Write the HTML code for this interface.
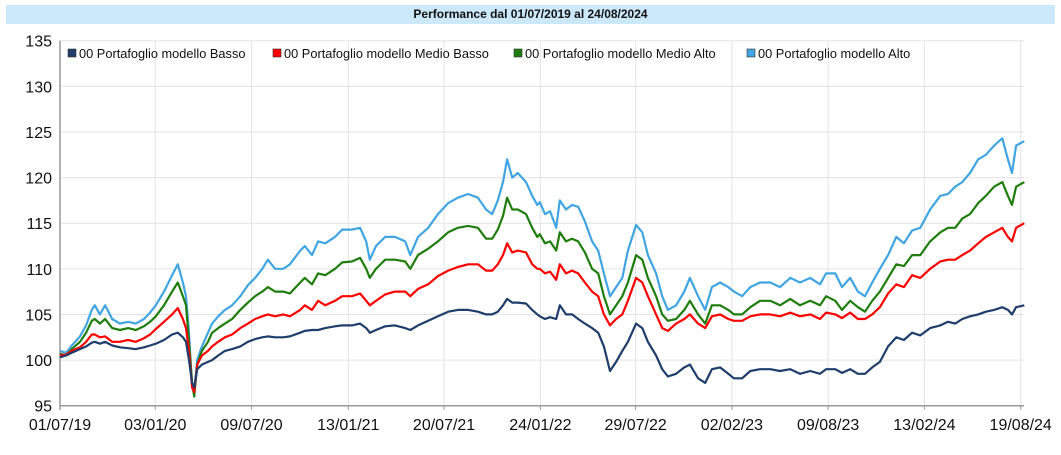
<!DOCTYPE html>
<html><head><meta charset="utf-8"><style>
body{margin:0;background:#fff;width:1061px;height:455px;overflow:hidden;font-family:"Liberation Sans",sans-serif}
#title{position:absolute;left:6px;top:5px;width:1049px;height:19px;background:#cce8fb;font-weight:bold;font-size:12px;line-height:19px;text-align:center;color:#111}
svg{position:absolute;left:0;top:0}
</style></head><body>
<div id="title">Performance dal 01/07/2019 al 24/08/2024</div>
<svg id="c" width="1061" height="455"></svg>
<script>
const days=[0,12,23,39,51,62,68,78,88,102,117,133,148,164,176,187,203,219,230,240,246,252,258,262,268,277,289,297,309,322,336,352,367,381,395,406,420,436,449,469,478,492,504,518,537,551,570,586,598,605,617,635,654,674,684,699,719,738,758,777,797,816,832,844,855,865,873,883,894,910,922,932,937,947,957,969,976,988,1000,1012,1025,1039,1051,1062,1074,1086,1098,1109,1125,1137,1148,1164,1176,1187,1203,1219,1230,1246,1260,1273,1289,1305,1316,1332,1348,1367,1387,1406,1426,1445,1465,1484,1496,1514,1527,1543,1558,1572,1586,1601,1617,1633,1648,1664,1680,1699,1719,1734,1748,1762,1777,1793,1808,1824,1840,1851,1859,1867,1883];
const basso=[100.3,100.5,100.8,101.2,101.5,101.9,102,101.8,102,101.6,101.4,101.3,101.2,101.4,101.6,101.8,102.2,102.8,103,102.5,102,100,97.5,97,99,99.5,99.8,100,100.5,101,101.2,101.5,102,102.3,102.5,102.6,102.5,102.5,102.6,103,103.2,103.3,103.3,103.5,103.7,103.8,103.8,104,103.5,103,103.3,103.7,103.8,103.5,103.3,103.8,104.3,104.8,105.3,105.5,105.5,105.3,105,105,105.3,106,106.7,106.3,106.3,106.2,105.5,105,104.8,104.5,104.7,104.5,106,105,105,104.5,104,103.5,103,101.5,98.8,99.8,101,102,104,103.5,102,100.5,99,98.2,98.5,99.2,99.5,98,97.5,99,99.2,98.5,98,98,98.8,99,99,98.8,99,98.5,98.8,98.5,99,99,98.6,99,98.5,98.5,99.2,99.8,101.5,102.5,102.2,103,102.7,103.5,103.8,104.2,104,104.5,104.8,105,105.3,105.5,105.8,105.5,105,105.8,106];
const medioBasso=[100.5,100.6,101,101.4,102,102.8,102.8,102.5,102.6,102,102,102.2,102,102.4,102.8,103.4,104.2,105,105.7,104.5,103.5,101,97,96.5,99.5,100.5,101,101.5,102,102.5,102.8,103.5,104,104.5,104.8,105,104.8,105,104.8,105.5,106,105.5,106.5,106,106.5,107,107,107.3,106.5,106,106.5,107.2,107.5,107.5,107,107.8,108.3,109.2,109.8,110.2,110.5,110.5,109.8,109.8,110.5,111.5,112.8,111.8,112,111.8,110.5,110,110,109.5,109.7,108.8,110.5,109.5,109.8,109.5,108.5,107.5,107,105,103.8,104.5,105,106.5,109,108.5,107,105,103.5,103.2,104,104.5,105,104,103.5,104.8,105,104.5,104.3,104.3,104.8,105,105,104.8,105.2,104.8,105,104.5,105.2,105,104.6,105.2,104.5,104.5,105,105.8,107.3,108.3,108,109.3,109,110,110.8,111,111,111.5,112,112.8,113.5,114,114.5,113.5,113,114.5,115];
const medioAlto=[100.7,100.5,101.2,102,103,104.3,104.5,104,104.5,103.5,103.3,103.5,103.3,103.7,104.2,104.8,106,107.5,108.5,107,106,102,97.5,96,99.5,101,102,103,103.5,104,104.5,105.5,106.3,107,107.5,108,107.5,107.5,107.3,108.5,109,108.3,109.5,109.3,110,110.7,110.8,111.2,110,109,110,111,111,110.8,110,111.5,112.2,113,114,114.5,114.7,114.5,113.3,113.3,114.3,115.8,117.8,116.5,116.5,116,114.5,113.5,113.8,112.8,113,112,114,113,113.3,113,111.8,110,109.5,107,105,106,107,108.5,111.5,111,109,107,105,104.3,104.5,105.5,106.5,105,104,106,106,105.5,105,105,105.8,106.5,106.5,106,106.7,106,106.5,106,107,106.5,105.5,106.5,105.8,105.3,106.5,107.5,109,110.5,110.3,111.5,111.5,113,114,114.5,114.5,115.5,116,117.2,118,119,119.5,118,117,119,119.5];
const alto=[101,100.8,101.6,102.6,103.8,105.5,106,105,106,104.5,104,104.2,104,104.5,105.2,106,107.5,109.3,110.5,108.5,107,103,97,96.5,100,101.5,103,104,104.8,105.5,106,107,108.2,109,110,111,110,110,110.5,112,112.5,111.5,113,112.8,113.5,114.3,114.3,114.5,113,111,112.5,113.5,113.5,113,111.5,113.5,114.5,116,117.2,117.8,118.2,117.8,116.5,116,117.5,119.5,122,120,120.5,119.5,118,117,117.3,116,116.3,114.5,117.5,116.5,117,116.8,115.2,113,112,109.5,107,108,109,112,114.8,114,111.5,109.5,107,105.5,106,107.5,109,107,105.5,108,108.5,108,107.5,107,108,108.5,108.5,108,109,108.5,109,108.3,109.5,109.5,108,109,107.5,107,108.5,110,111.5,113.5,112.8,114.2,114.5,116.5,118,118.2,119,119.5,120.5,122,122.5,123.5,124.3,122,120.5,123.5,124];
const yTicks=[95,100,105,110,115,120,125,130,135];
const xTickDays=[0,186,374,563,750,938,1124,1312,1500,1688,1876];
const xTickLabels=["01/07/19","03/01/20","09/07/20","13/01/21","20/07/21","24/01/22","29/07/22","02/02/23","09/08/23","13/02/24","19/08/24"];
const seriesNames=["00 Portafoglio modello Basso","00 Portafoglio modello Medio Basso","00 Portafoglio modello Medio Alto","00 Portafoglio modello Alto"];

const NS="http://www.w3.org/2000/svg",svg=document.getElementById('c');
const L=60,R=1020.7,T=40.7,B=405.7;
const xs=d=>L+(d/1876)*(R-L);
const ys=v=>B-(v-95)/40*(B-T);
function mk(tag,attrs,parent){const e=document.createElementNS(NS,tag);for(const k in attrs)e.setAttribute(k,attrs[k]);(parent||svg).appendChild(e);return e;}
yTicks.forEach(v=>{
  const g=mk('line',{x1:L,x2:1024,y1:ys(v),y2:ys(v),stroke:'#e3e3e3','stroke-width':1});
  
  
  const t=mk('text',{x:52,y:ys(v)+6,'text-anchor':'end','font-size':16,fill:'#111'});
  t.textContent=v;
  
  
});
xTickDays.forEach((d,i)=>{
  const g=mk('line',{x1:xs(d),x2:xs(d),y1:T,y2:B+4,stroke:'#e3e3e3','stroke-width':1});
  
  
  const tk=mk('line',{x1:xs(d),x2:xs(d),y1:B,y2:B+4,stroke:'#999','stroke-width':1});
  
  
  const t=mk('text',{x:xs(d),y:430,'text-anchor':'middle','font-size':16,fill:'#111'});
  t.textContent=xTickLabels[i];
  
  
});
const ax=mk('line',{x1:L,x2:1024,y1:B,y2:B,stroke:'#999','stroke-width':1.5});


const ay=mk('line',{x1:L,x2:L,y1:T,y2:B+4,stroke:'#999','stroke-width':1.5});


const all=[basso,medioBasso,medioAlto,alto],cols=['#1f3e6c','#ff0000','#1f7d0d','#41a5e1'],ids=['line-basso','line-medio-basso','line-medio-alto','line-alto'];
[3,2,1,0].forEach(k=>{
  const d=all[k].map((v,i)=>(i?'L':'M')+xs(days[i]).toFixed(1)+' '+ys(v).toFixed(1)).join('');
  const p=mk('path',{d:d,fill:'none',stroke:cols[k],'stroke-width':2.2,'stroke-linejoin':'round'});
  
  
});
const lx=[68,273,514,747];
seriesNames.forEach((n,i)=>{
  const r=mk('rect',{x:lx[i],y:49,width:8,height:8,fill:cols[i],stroke:'#333','stroke-width':0.6});
  
  
  const t=mk('text',{x:lx[i]+11,y:58,'font-size':12.8,fill:'#111'});
  t.textContent=n;
  
  
});
</script>
</body></html>
